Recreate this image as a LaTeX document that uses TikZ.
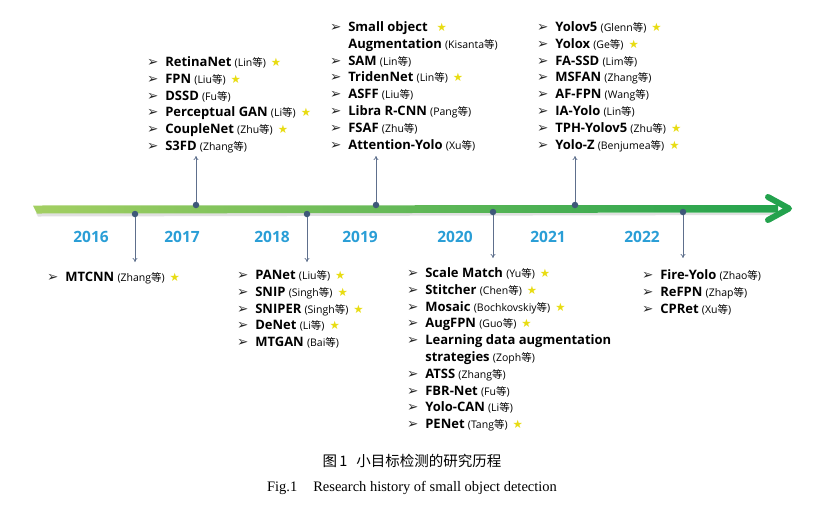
\documentclass[tikz,border=0pt]{standalone}
\usepackage{fontspec}
\setmainfont{Liberation Serif}
\newfontfamily\osans{Open Sans}
\newfontfamily\cjk{Noto Sans CJK SC}
\newfontfamily\dejavu{DejaVu Sans}
\usetikzlibrary{arrows.meta}
\definecolor{yearblue}{HTML}{2A9ED6}
\definecolor{linegreenL}{HTML}{A3CF62}
\definecolor{linegreenR}{HTML}{23A24D}
\definecolor{dotblue}{HTML}{3E5879}
\definecolor{connblue}{HTML}{5E6F8C}
\definecolor{staryel}{HTML}{E8DC12}
\newcommand\bul{{\dejavu\fontsize{13.5}{10}\selectfont\color{black!85}➢}}
\newcommand\nm[1]{{\osans\bfseries #1}}
\newcommand\au[1]{{\osans\fontsize{10.5}{10}\selectfont(#1{\cjk 等})}}
\newcommand\st{\hspace{5pt}{\dejavu\fontsize{11.5}{10}\selectfont\color{staryel}★}}
\newcommand\lst[1]{{\fontsize{13}{16.8}\selectfont\begin{tabular}{@{}l@{\hspace{7pt}}l@{}}#1\end{tabular}}}
\tikzset{
  evlist/.style={anchor=north west, inner sep=0pt, outer sep=0pt},
  year/.style={font=\osans\bfseries\fontsize{15.5}{16}\selectfont, text=yearblue},
  evdot/.style={circle, fill=dotblue, inner sep=0pt, minimum size=6.5pt},
  conn/.style={draw=connblue, line width=0.7pt, -{To[length=4pt,width=5pt]}}
}
\begin{document}
\begin{tikzpicture}[x=1pt,y=-1pt]
\useasboundingbox (0,0) rectangle (821,504);
% timeline
\fill[black!12] (36,213) -- (775,213) -- (775,215) -- (38,216.5) -- cycle;
\shade[left color=linegreenL, right color=linegreenR] (33,205.5) -- (778,205) -- (778,212.5) -- (37,213.5) -- cycle;
\coordinate (tipA) at (768,197);
\coordinate (tip) at (789,208.5);
\coordinate (tipB) at (768,220);
\draw[linegreenR, line width=6pt, line cap=round, line join=round] (tipA) -- (tip) -- (tipB);
% years
\node[year] (y16) at (91,237) {2016};
\node[year] (y17) at (182,237) {2017};
\node[year] (y18) at (272,237) {2018};
\node[year] (y19) at (360,237) {2019};
\node[year] (y20) at (455,237) {2020};
\node[year] (y21) at (548,237) {2021};
\node[year] (y22) at (642,237) {2022};
% dots
\node[evdot] (d16) at (135,214) {};
\node[evdot] (d17) at (196,205) {};
\node[evdot] (d18) at (307,214) {};
\node[evdot] (d19) at (376,205) {};
\node[evdot] (d20) at (493,212) {};
\node[evdot] (d21) at (575,205) {};
\node[evdot] (d22) at (683,212) {};
\coordinate (e16) at (135,262);
\coordinate (e17) at (196,156);
\coordinate (e18) at (307,262);
\coordinate (e19) at (376,156);
\coordinate (e20) at (493,258);
\coordinate (e21) at (575,156);
\coordinate (e22) at (683,258);
\foreach \k in {16,17,18,19,20,21,22} \draw[conn] (d\k) -- (e\k);
% lists
\node[evlist] (l17) at (147,54.7) {\lst{
\bul & \nm{RetinaNet} \au{Lin}\st\\
\bul & \nm{FPN} \au{Liu}\st\\
\bul & \nm{DSSD} \au{Fu}\\
\bul & \nm{Perceptual GAN} \au{Li}\st\\
\bul & \nm{CoupleNet} \au{Zhu}\st\\
\bul & \nm{S3FD} \au{Zhang}}};
\node[evlist] (l19) at (330,19.7) {\lst{
\bul & \nm{Small object}\hspace{4pt}\st\\
 & \nm{Augmentation} \au{Kisanta}\\
\bul & \nm{SAM} \au{Lin}\\
\bul & \nm{TridenNet} \au{Lin}\st\\
\bul & \nm{ASFF} \au{Liu}\\
\bul & \nm{Libra R-CNN} \au{Pang}\\
\bul & \nm{FSAF} \au{Zhu}\\
\bul & \nm{Attention-Yolo} \au{Xu}}};
\node[evlist] (l21) at (537,19.7) {\lst{
\bul & \nm{Yolov5} \au{Glenn}\st\\
\bul & \nm{Yolox} \au{Ge}\st\\
\bul & \nm{FA-SSD} \au{Lim}\\
\bul & \nm{MSFAN} \au{Zhang}\\
\bul & \nm{AF-FPN} \au{Wang}\\
\bul & \nm{IA-Yolo} \au{Lin}\\
\bul & \nm{TPH-Yolov5} \au{Zhu}\st\\
\bul & \nm{Yolo-Z} \au{Benjumea}\st}};
\node[evlist] (l16) at (47,269.7) {\lst{
\bul & \nm{MTCNN} \au{Zhang}\st}};
\node[evlist] (l18) at (237,267.7) {\lst{
\bul & \nm{PANet} \au{Liu}\st\\
\bul & \nm{SNIP} \au{Singh}\st\\
\bul & \nm{SNIPER} \au{Singh}\st\\
\bul & \nm{DeNet} \au{Li}\st\\
\bul & \nm{MTGAN} \au{Bai}}};
\node[evlist] (l20) at (407,265.7) {\lst{
\bul & \nm{Scale Match} \au{Yu}\st\\
\bul & \nm{Stitcher} \au{Chen}\st\\
\bul & \nm{Mosaic} \au{Bochkovskiy}\st\\
\bul & \nm{AugFPN} \au{Guo}\st\\
\bul & \nm{Learning data augmentation}\\
 & \nm{strategies} \au{Zoph}\\
\bul & \nm{ATSS} \au{Zhang}\\
\bul & \nm{FBR-Net} \au{Fu}\\
\bul & \nm{Yolo-CAN} \au{Li}\\
\bul & \nm{PENet} \au{Tang}\st}};
\node[evlist] (l22) at (642,267.7) {\lst{
\bul & \nm{Fire-Yolo} \au{Zhao}\\
\bul & \nm{ReFPN} \au{Zhap}\\
\bul & \nm{CPRet} \au{Xu}}};
% captions
\node (cap1) at (412,461) {\cjk\fontsize{14.5}{15}\selectfont 图\,1\hspace{9pt}小目标检测的研究历程};
\node (cap2) at (412,488) {\fontsize{14.5}{15}\selectfont Fig.1\hspace{16pt}Research history of small object detection};
\end{tikzpicture}
\end{document}
